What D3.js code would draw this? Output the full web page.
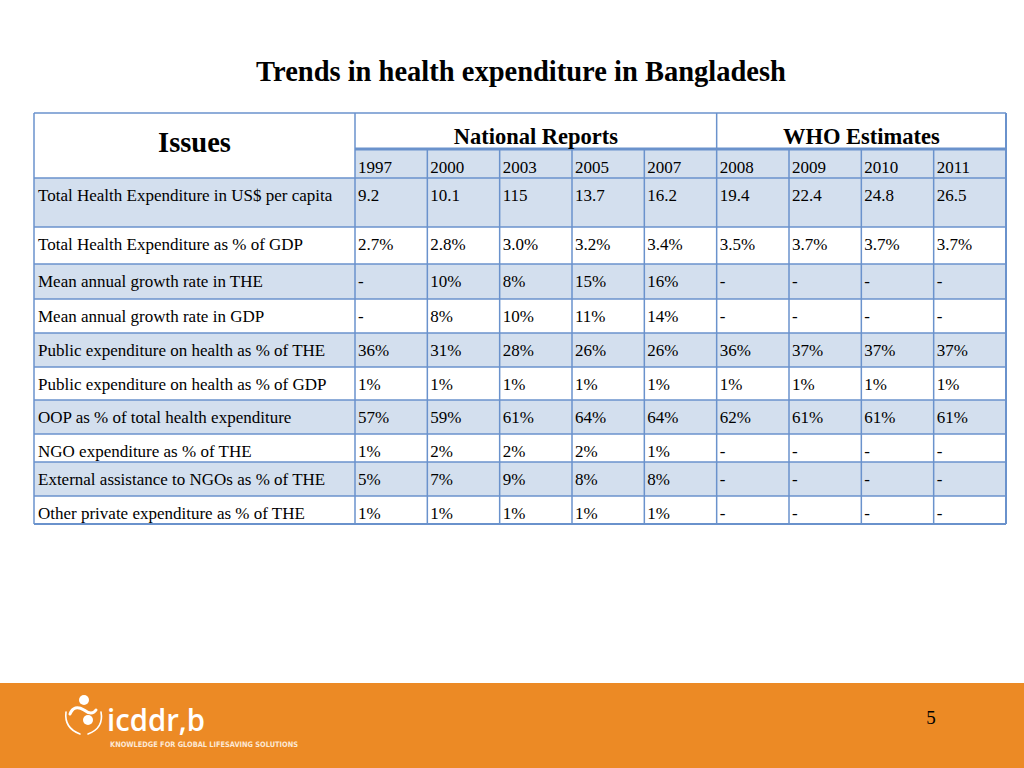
<!DOCTYPE html>
<html><head><meta charset="utf-8">
<script src="https://cdn.jsdelivr.net/npm/d3@7"></script>
<style>html,body{margin:0;padding:0;background:#fff;}</style>
</head><body>
<svg id="c" width="1024" height="768"></svg>
<script>
const title = "Trends in health expenditure in Bangladesh";
const groups = ["National Reports", "WHO Estimates"];
const groupSpans = [5, 4];
const years = ["1997","2000","2003","2005","2007","2008","2009","2010","2011"];
const issues = [
  "Total Health Expenditure in US$ per capita",
  "Total Health Expenditure as % of GDP",
  "Mean annual growth rate in THE",
  "Mean annual growth rate in GDP",
  "Public expenditure on health as % of THE",
  "Public expenditure on health as % of GDP",
  "OOP as % of total health expenditure",
  "NGO expenditure as % of THE",
  "External assistance to NGOs as % of THE",
  "Other private expenditure as % of THE"
];
const theUsd      = ["9.2","10.1","115","13.7","16.2","19.4","22.4","24.8","26.5"];
const theGdp      = ["2.7%","2.8%","3.0%","3.2%","3.4%","3.5%","3.7%","3.7%","3.7%"];
const growthThe   = ["-","10%","8%","15%","16%","-","-","-","-"];
const growthGdp   = ["-","8%","10%","11%","14%","-","-","-","-"];
const publicThe   = ["36%","31%","28%","26%","26%","36%","37%","37%","37%"];
const publicGdp   = ["1%","1%","1%","1%","1%","1%","1%","1%","1%"];
const oopThe      = ["57%","59%","61%","64%","64%","62%","61%","61%","61%"];
const ngoThe      = ["1%","2%","2%","2%","1%","-","-","-","-"];
const extNgoThe   = ["5%","7%","9%","8%","8%","-","-","-","-"];
const otherPriv   = ["1%","1%","1%","1%","1%","-","-","-","-"];
const rows = [theUsd, theGdp, growthThe, growthGdp, publicThe, publicGdp, oopThe, ngoThe, extNgoThe, otherPriv];
const pageNumber = "5";

// layout
const svg = d3.select("#c");
const serif = "'Liberation Serif','Times New Roman',serif";
const border = "#6a92cc", shade = "#d3dfee";
const xL = 34, xS = 355, xR = 1006;
const yTop = 113, yGroup = 149, yYear = 178;
const rowHeights = [49, 37, 35, 34, 34, 33, 34, 28, 34, 28];
const rowTops = [yYear]; rowHeights.forEach(h => rowTops.push(rowTops[rowTops.length-1] + h));
const yBottom = rowTops[rowTops.length-1];
const bodySize = 17;

const x = d3.scaleBand().domain(years).range([xS, xR]);

svg.append("text").attr("x", 521).attr("y", 81).attr("text-anchor","middle")
  .attr("font-family", serif).attr("font-weight","bold").attr("font-size", 28.5).attr("fill","#000").text(title);

// shading
svg.append("rect").attr("x", xS).attr("y", yGroup).attr("width", xR - xS).attr("height", yYear - yGroup).attr("fill", shade);
const shaded = rows.map((r, i) => i % 2 === 0);
svg.selectAll("rect.band").data(rows).join("rect").attr("class","band")
  .attr("x", xL).attr("y", (d,i) => rowTops[i]).attr("width", xR - xL).attr("height", (d,i) => rowHeights[i])
  .attr("fill", (d,i) => shaded[i] ? shade : "none");

// grid lines
const g = svg.append("g").attr("stroke", border).attr("fill","none");
rowTops.forEach((y, i) => {
  g.append("line").attr("x1", xL).attr("x2", xR).attr("y1", y).attr("y2", y).attr("stroke-width", i === rowTops.length-1 ? 2 : 1.5);
});
g.append("line").attr("x1", xL).attr("x2", xR).attr("y1", yTop).attr("y2", yTop).attr("stroke-width", 1.5);
g.append("line").attr("x1", xS).attr("x2", xR).attr("y1", yGroup).attr("y2", yGroup).attr("stroke-width", 3);
g.append("line").attr("x1", xL).attr("x2", xL).attr("y1", yTop).attr("y2", yBottom).attr("stroke-width", 1.5);
g.append("line").attr("x1", xR).attr("x2", xR).attr("y1", yTop).attr("y2", yBottom).attr("stroke-width", 2);
g.append("line").attr("x1", xS).attr("x2", xS).attr("y1", yTop).attr("y2", yBottom).attr("stroke-width", 1.5);
let acc = 0;
const groupX = groupSpans.map(s => { const a = x(years[acc]); acc += s; return [a, acc < years.length ? x(years[acc]) : xR]; });
g.append("line").attr("x1", groupX[1][0]).attr("x2", groupX[1][0]).attr("y1", yTop).attr("y2", yGroup).attr("stroke-width", 1.5);
years.forEach((yr, i) => { if (i > 0) g.append("line").attr("x1", x(yr)).attr("x2", x(yr)).attr("y1", yGroup).attr("y2", yBottom).attr("stroke-width", 1.5); });

// header texts
svg.append("text").attr("x", (xL + xS)/2).attr("y", 152).attr("text-anchor","middle")
  .attr("font-family", serif).attr("font-weight","bold").attr("font-size", 28.5).text("Issues");
svg.selectAll("text.grp").data(groups).join("text").attr("class","grp")
  .attr("x", (d,i) => (groupX[i][0] + groupX[i][1]) / 2).attr("y", 144).attr("text-anchor","middle")
  .attr("font-family", serif).attr("font-weight","bold").attr("font-size", 22.5).text(d => d);
svg.selectAll("text.yr").data(years).join("text").attr("class","yr")
  .attr("x", d => x(d) + 3).attr("y", yGroup + 23.5)
  .attr("font-family", serif).attr("font-size", bodySize).text(d => d);

// body
svg.selectAll("text.issue").data(issues).join("text").attr("class","issue")
  .attr("x", xL + 4).attr("y", (d,i) => rowTops[i] + 22.5)
  .attr("font-family", serif).attr("font-size", bodySize).text(d => d);
rows.forEach((r, i) => {
  svg.selectAll("text.v" + i).data(r).join("text").attr("class","v" + i)
    .attr("x", (d,j) => x(years[j]) + 3).attr("y", rowTops[i] + 22.5)
    .attr("font-family", serif).attr("font-size", bodySize).text(d => d);
});

// footer
svg.append("rect").attr("x", 0).attr("y", 683).attr("width", 1024).attr("height", 85).attr("fill", "#ec8a25");
svg.append("text").attr("x", 931).attr("y", 724).attr("text-anchor","middle")
  .attr("font-family", serif).attr("font-size", 19).attr("fill","#000").text(pageNumber);
// logo
const lg = svg.append("g").attr("fill","none").attr("stroke","#fff").attr("stroke-linecap","round");
lg.append("circle").attr("cx", 84).attr("cy", 700).attr("r", 5).attr("fill","#fff").attr("stroke","none");
lg.append("path").attr("d", "M70,714 Q74,704 84,710 Q92,716 96,710").attr("stroke-width", 3);
lg.append("circle").attr("cx", 88).attr("cy", 720).attr("r", 5).attr("fill","#fff").attr("stroke","none");
lg.append("path").attr("d", "M66,712 Q64,728 80,734").attr("stroke-width", 1.6);
lg.append("path").attr("d", "M101,712 Q104,728 88,734").attr("stroke-width", 1.6);
svg.append("text").attr("x", 107).attr("y", 731)
  .attr("font-family", "'Open Sans','DejaVu Sans',sans-serif").attr("font-weight", 600).attr("font-size", 31).attr("fill","#fff")
  .attr("textLength", 98).attr("lengthAdjust","spacingAndGlyphs").text("icddr,b");
svg.append("text").attr("x", 110).attr("y", 747)
  .attr("font-family", "'DejaVu Sans Condensed','Liberation Sans Narrow','Roboto',sans-serif").attr("font-weight","bold").attr("font-size", 7.5).attr("fill","#fde9d6")
  .attr("textLength", 188).attr("lengthAdjust","spacingAndGlyphs").text("KNOWLEDGE FOR GLOBAL LIFESAVING SOLUTIONS");
</script>
</body></html>
